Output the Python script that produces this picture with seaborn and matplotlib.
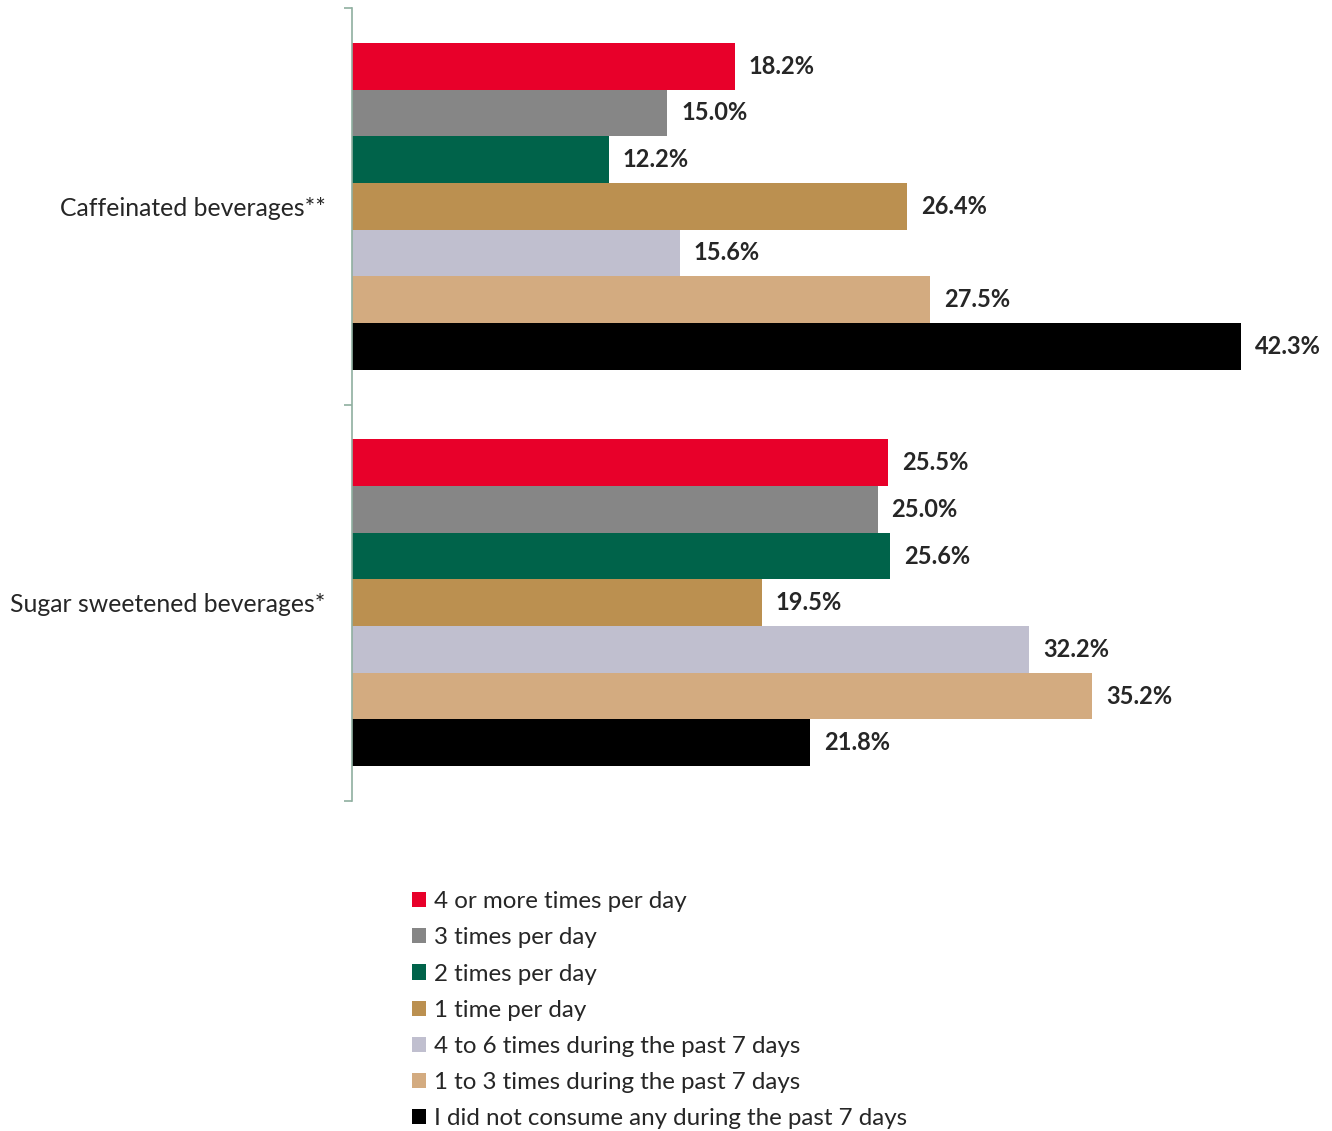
import pandas as pd
import matplotlib.pyplot as plt
import seaborn as sns

# Beverage consumption frequency (% of respondents)
beverages = ['Caffeinated beverages**', 'Sugar sweetened beverages*']
frequencies = ['4 or more times per day', '3 times per day', '2 times per day',
               '1 time per day', '4 to 6 times during the past 7 days',
               '1 to 3 times during the past 7 days',
               'I did not consume any during the past 7 days']
caffeinated = [18.2, 15.0, 12.2, 26.4, 15.6, 27.5, 42.3]
sugar_sweetened = [25.5, 25.0, 25.6, 19.5, 32.2, 35.2, 21.8]
colors = ['#E8002A', '#868686', '#00634A', '#BB9050', '#C0BFCF', '#D3AB80', '#000000']

df = pd.DataFrame({
    'beverage': [beverages[0]] * 7 + [beverages[1]] * 7,
    'frequency': frequencies * 2,
    'percent': caffeinated + sugar_sweetened,
})

sns.set_style('white')
plt.rcParams['font.family'] = ['Lato', 'DejaVu Sans']

fig = plt.figure(figsize=(13.32, 11.31), dpi=100)
ax = fig.add_axes([0.2643, 0.2918, 0.7102, 0.7011])

sns.barplot(data=df, x='percent', y='beverage', hue='frequency', orient='h',
            palette=colors, width=0.824, saturation=1, linewidth=0, ax=ax)

for cont in ax.containers:
    ax.bar_label(cont, fmt='%.1f%%', padding=10, fontsize=17, fontweight='bold')

ax.set_xlim(0, 45)
ax.set_ylim(1.5, -0.5)
ax.set_xlabel('')
ax.set_ylabel('')
ax.set_xticks([])

spine_color = '#8FAFA0'
for s in ['top', 'right', 'bottom']:
    ax.spines[s].set_visible(False)
ax.spines['left'].set_color(spine_color)
ax.spines['left'].set_linewidth(1.2)

ax.set_yticks([0, 1])
ax.set_yticklabels(beverages, fontsize=17.8)
ax.tick_params(axis='y', which='major', length=0, pad=19)
ax.set_yticks([-0.5, 0.5, 1.5], minor=True)
ax.tick_params(axis='y', which='minor', length=6, width=1.2, color=spine_color, left=True)

handles, labels = ax.get_legend_handles_labels()
ax.get_legend().remove()
fig.legend(handles, labels, loc='upper left', bbox_to_anchor=(0.3005, 0.2228),
           frameon=False, fontsize=17.4, labelspacing=0.63, handlelength=0.58,
           handleheight=0.58, handletextpad=0.33, borderpad=0)

fig.savefig('out.png', dpi=100)
